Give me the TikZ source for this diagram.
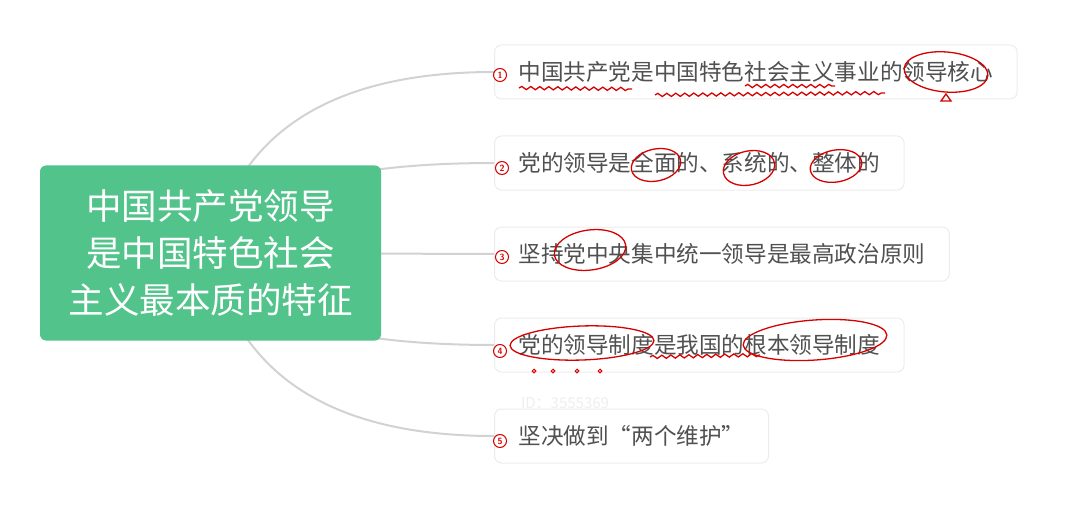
\documentclass[tikz,border=0pt]{standalone}
\usepackage{fontspec}
\newfontfamily\cjk{Noto Sans CJK SC}
\usetikzlibrary{decorations.pathmorphing,backgrounds}
\definecolor{mmgreen}{RGB}{82,195,139}
\definecolor{linegray}{RGB}{210,210,210}
\definecolor{txtgray}{RGB}{80,80,80}
\definecolor{boxline}{RGB}{236,236,236}
\definecolor{penred}{RGB}{214,0,0}
\definecolor{wmgray}{RGB}{238,238,238}
\begin{document}
\begin{tikzpicture}[x=1pt,y=-1pt,
 root/.style={fill=mmgreen, rounded corners=6pt, text=white, font=\cjk\fontsize{35.5}{47}\selectfont, align=center, minimum width=341pt, minimum height=175pt, inner sep=0pt},
 leaf/.style={fill=white, draw=boxline, line width=1pt, rounded corners=7pt, text=txtgray, font=\cjk\fontsize{22.6}{26}\selectfont, inner xsep=24pt, inner ysep=0pt, minimum height=54pt, anchor=west},
 link/.style={draw=linegray, line width=2pt},
 redpen/.style={draw=penred, line width=1.3pt},
 wave/.style={redpen, decorate, decoration={snake, amplitude=1.6pt, segment length=9pt}},
 num/.style={text=penred, font=\sffamily\bfseries\fontsize{9}{9}\selectfont, inner sep=0.6pt, draw=penred, circle, line width=1pt, minimum size=13pt},
 wmark/.style={text=wmgray, font=\cjk\fontsize{15}{15}\selectfont}
]
\useasboundingbox (0,0) rectangle (1082,508);

\node[root] (root) at (210.5,253) {中国共产党领导\\是中国特色社会\\主义最本质的特征};

\node[leaf] (b1) at (494,72) {中国共产党是中国特色社会主义事业的领导核心};
\node[leaf] (b2) at (494,163) {党的领导是全面的、系统的、整体的};
\node[leaf] (b3) at (494,254) {坚持党中央集中统一领导是最高政治原则};
\node[leaf] (b4) at (494,345) {党的领导制度是我国的根本领导制度};
\node[leaf] (b5) at (494,436) {坚决做到“两个维护”};

\node[wmark] (wm) at (565,403) {ID：3555369};

\begin{scope}[on background layer]
\draw[link] (root.center) .. controls +(26.7,-120.7) and +(-162.7,0) .. (b1.west);
\draw[link] (root.center) .. controls +(26.7,-60) and +(-162.7,0) .. (b2.west);
\draw[link] (root.center) -- (b3.west);
\draw[link] (root.center) .. controls +(26.7,61.3) and +(-162.7,0) .. (b4.west);
\draw[link] (root.center) .. controls +(26.7,122) and +(-162.7,0) .. (b5.west);
\end{scope}

% handwritten numbers
\node[num] (n1) at (500,75) {1};
\node[num] (n2) at (502,168) {2};
\node[num] (n3) at (502,257) {3};
\node[num] (n4) at (500,351) {4};
\node[num] (n5) at (500,441) {5};

% box 1 annotations
\draw[wave] (519,88) -- (632,89);
\draw[wave] (745,86) -- (835,86);
\draw[wave] (655,95) -- (885,93);
\draw[redpen, rotate around={-5:(946,72)}] (946,72) ellipse (42pt and 20pt);
\draw[redpen] (941,101) -- (946,94) -- (951,101) -- cycle;

% box 2 annotations
\draw[redpen, rotate around={12:(656,165)}] (656,165) ellipse (25pt and 16pt);
\draw[redpen, rotate around={12:(749,168)}] (749,168) ellipse (26pt and 17pt);
\draw[redpen, rotate around={10:(836,166)}] (836,166) ellipse (26pt and 16pt);

% box 3 annotations
\draw[redpen, rotate around={8:(590,250)}] (590,250) ellipse (36pt and 20pt);

% box 4 annotations
\draw[redpen, rotate around={2:(582,343)}] (582,343) ellipse (72pt and 17pt);
\draw[wave] (650,357) -- (760,355);
\draw[redpen, rotate around={4:(815,340)}] (815,340) ellipse (72pt and 20pt);
\foreach \dx in {534,553,577,600} \draw[redpen, line width=1pt] (\dx,371) circle (1.8pt);
\end{tikzpicture}
\end{document}
